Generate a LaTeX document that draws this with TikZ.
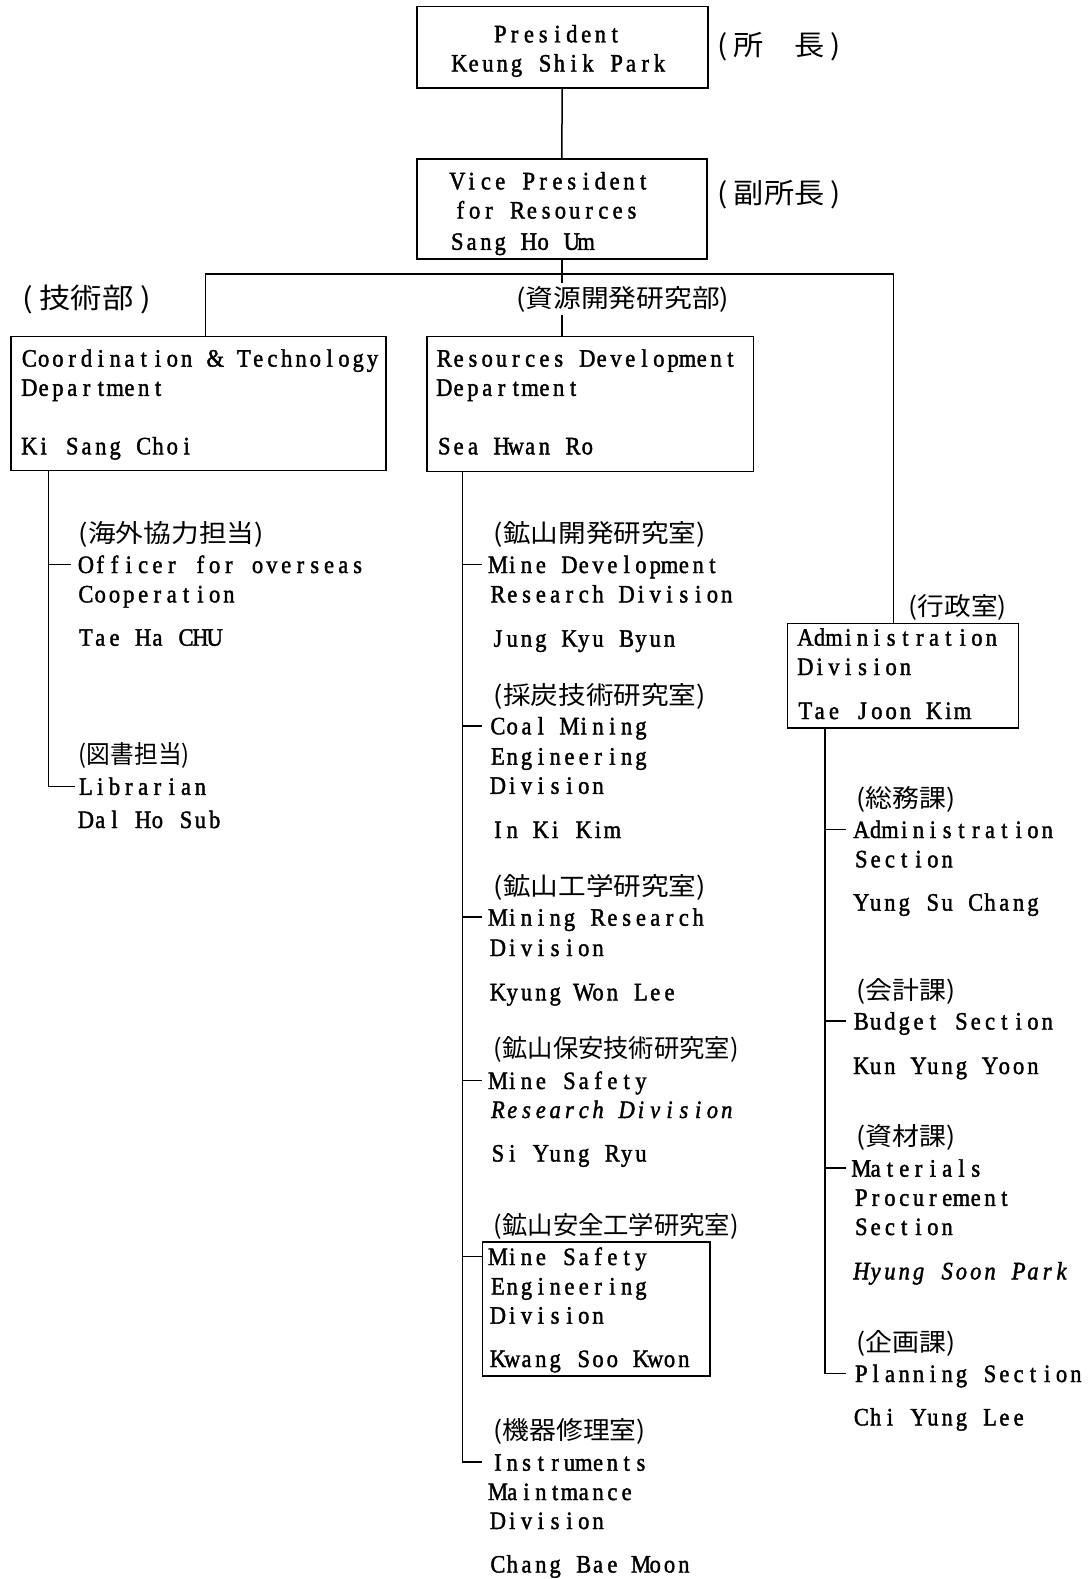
\documentclass[tikz,border=0pt]{standalone}
\usepackage{fontspec}
\usepackage{graphicx}
\setmainfont[FakeStretch=0.9,FakeBold=1.6]{Liberation Serif}
\newfontfamily\jpfont{Noto Sans CJK JP}
\newlength\mtw
\setlength\mtw{14.3pt}
\ExplSyntaxOn
\NewDocumentCommand\mt{m}{\str_map_inline:nn{#1}{\makebox[\mtw][c]{##1}}}
\ExplSyntaxOff
\newcommand\jp[3][25]{\resizebox{#2pt}{\height}{\jpfont\fontsize{#1pt}{#1pt}\selectfont #3}}
\tikzset{
  box/.style={draw, line width=1.5pt, inner sep=0pt, anchor=north west},
  txt/.style={anchor=base west, inner sep=0pt, text height=17pt, text depth=0pt, font=\fontsize{25pt}{25pt}\selectfont},
  jpl/.style={anchor=west, inner sep=0pt},
  ln/.style={line width=1.5pt}
}
\newcommand\tx[4]{\node[txt] (#1) at (#2,#3) {\mt{#4}};}
\begin{document}
\begin{tikzpicture}[x=1pt,y=-1pt]
\useasboundingbox[fill=white] (0,0) rectangle (1091,1579);
% boxes
\node[box, minimum width=291pt, minimum height=81pt] (pres) at (416,6) {};
\node[box, minimum width=290pt, minimum height=100pt] (vp) at (416,158) {};
\node[box, minimum width=375pt, minimum height=134pt] (ctd) at (10,335.5) {};
\node[box, minimum width=326.5pt, minimum height=135pt] (rdd) at (426,335.5) {};
\node[box, minimum width=230.7pt, minimum height=104.8pt] (adm) at (786.8,622.5) {};
\node[box, minimum width=227.5pt, minimum height=134pt] (mseb) at (481.5,1241) {};
% top
\tx{presA}{493}{42.3}{President}
\tx{presB}{452}{71.5}{Keung Shik Park}
\tx{vpA}{450}{189.3}{Vice President}
\tx{vpB}{453}{218.5}{for Resources}
\tx{vpC}{450}{249.8}{Sang Ho Um}
\node[jpl] (jpPres) at (717,46.3) {\jp[28]{124}{(\hspace{6pt}所　長\hspace{6pt})}};
\node[jpl] (jpVp) at (717,194.4) {\jp[28]{124}{(\hspace{6pt}副所長\hspace{6pt})}};
\node[jpl] (jpTech) at (22,299) {\jp[28]{129}{(\hspace{6pt}技術部\hspace{6pt})}};
% departments
\tx{ctdA}{22}{366.6}{Coordination & Technology}
\tx{ctdB}{22}{395.8}{Department}
\tx{ctdC}{22}{454.3}{Ki Sang Choi}
\tx{rddA}{437}{366.6}{Resources Development}
\tx{rddB}{437}{395.8}{Department}
\tx{rddC}{437}{454.3}{Sea Hwan Ro}
% left column
\node[jpl] (jpOff) at (78.6,534) {\jp{185}{(海外協力担当)}};
\tx{offA}{78.6}{573}{Officer for overseas}
\tx{offB}{78.6}{602.4}{Cooperation}
\tx{offC}{78.6}{645.7}{Tae Ha CHU}
\node[jpl] (jpLib) at (78.6,755.6) {\jp{111}{(図書担当)}};
\tx{libA}{78.6}{794.8}{Librarian}
\tx{libB}{78.6}{828}{Dal Ho Sub}
% middle column
\node[jpl] (jpMd) at (493.6,534) {\jp{212}{(鉱山開発研究室)}};
\tx{mdA}{490.6}{573}{Mine Development}
\tx{mdB}{490.6}{602.4}{Research Division}
\tx{mdC}{490.6}{646.7}{Jung Kyu Byun}
\node[jpl] (jpCm) at (493.6,696) {\jp{212}{(採炭技術研究室)}};
\tx{cmA}{490.6}{734.3}{Coal Mining}
\tx{cmB}{490.6}{764.6}{Engineering}
\tx{cmC}{490.6}{793.8}{Division}
\tx{cmD}{490.6}{838}{In Ki Kim}
\node[jpl] (jpMr) at (493.6,887.5) {\jp{212}{(鉱山工学研究室)}};
\tx{mrA}{490.6}{925.7}{Mining Research}
\tx{mrB}{490.6}{956}{Division}
\tx{mrC}{490.6}{1000.3}{Kyung Won Lee}
\node[jpl] (jpMs) at (493.6,1049.7) {\jp{245}{(鉱山保安技術研究室)}};
\tx{msA}{490.6}{1089}{Mine Safety}
\node[txt] (msB) at (490.6,1118) {\itshape\mt{Research Division}};
\tx{msC}{490.6}{1161.5}{Si Yung Ryu}
\node[jpl] (jpMse) at (493.6,1226) {\jp{245}{(鉱山安全工学研究室)}};
\tx{mseA}{490.6}{1265}{Mine Safety}
\tx{mseB}{490.6}{1294.5}{Engineering}
\tx{mseC}{490.6}{1323.6}{Division}
\tx{mseD}{490.6}{1367}{Kwang Soo Kwon}
\node[jpl] (jpIns) at (493.6,1431.5) {\jp{152}{(機器修理室)}};
\tx{insA}{490.6}{1470.7}{Instruments}
\tx{insB}{490.6}{1500}{Maintmance}
\tx{insC}{490.6}{1529}{Division}
\tx{insD}{490.6}{1572.5}{Chang Bae Moon}
% administration
\node[jpl] (jpAdm) at (908.7,607.5) {\jp{98}{(行政室)}};
\tx{admA}{798}{645.7}{Administration}
\tx{admB}{798}{675}{Division}
\tx{admC}{798}{719}{Tae Joon Kim}
\node[jpl] (jpAs) at (856,799) {\jp{99}{(総務課)}};
\tx{asA}{854}{838}{Administration}
\tx{asB}{854}{867.3}{Section}
\tx{asC}{854}{910.6}{Yung Su Chang}
\node[jpl] (jpBu) at (856,991.3) {\jp{99}{(会計課)}};
\tx{buA}{854}{1029.5}{Budget Section}
\tx{buB}{854}{1074}{Kun Yung Yoon}
\node[jpl] (jpMa) at (856,1137.4) {\jp{99}{(資材課)}};
\tx{maA}{854}{1176.6}{Materials}
\tx{maB}{854}{1205.8}{Procurement}
\tx{maC}{854}{1235}{Section}
\node[txt] (maD) at (854,1279.3) {\itshape\mt{Hyung Soon Park}};
\node[jpl] (jpPl) at (856,1343) {\jp{99}{(企画課)}};
\tx{plA}{854}{1382}{Planning Section}
\tx{plB}{854}{1425.4}{Chi Yung Lee}
% connectors
\coordinate (busL) at (205.5,274);
\coordinate (busR) at (893.5,274);
\coordinate (lx) at (48.4,0);
\coordinate (mx) at (462.4,0);
\coordinate (rx) at (825,0);
\draw[ln] (pres.south) -- (vp.north);
\draw[ln] (vp.south) -- (vp.south |- busL);
\draw[ln] (busL |- ctd.north) -- (busL) -- (busR) -- (busR |- adm.north);
\draw[ln] (vp.south |- busL) -- (vp.south |- rdd.north);
% label over the middle drop
\node[jpl, fill=white, inner ysep=3pt] (jpRes) at (516,299) {\jp{213}{(資源開発研究部)}};
% left tree
\draw[ln] (lx |- ctd.south) -- (lx |- libA.west) -- ([xshift=-4pt]libA.west);
\draw[ln] (lx |- offA.west) -- ([xshift=-8pt]offA.west);
% middle tree
\draw[ln] (mx |- rdd.south) -- (mx |- insA.west) -- ([xshift=-9pt]insA.west);
\draw[ln] (mx |- mdA.west) -- ([xshift=-9pt]mdA.west);
\draw[ln] (mx |- cmA.west) -- ([xshift=-9pt]cmA.west);
\draw[ln] (mx |- mrA.west) -- ([xshift=-9pt]mrA.west);
\draw[ln] (mx |- msA.west) -- ([xshift=-9pt]msA.west);
\draw[ln] (mx |- mseA.west) -- (mseb.west |- mseA.west);
% right tree
\draw[ln] (rx |- adm.south) -- (rx |- plA.west) -- ([xshift=-8pt]plA.west);
\draw[ln] (rx |- asA.west) -- ([xshift=-8pt]asA.west);
\draw[ln] (rx |- buA.west) -- ([xshift=-8pt]buA.west);
\draw[ln] (rx |- maA.west) -- ([xshift=-8pt]maA.west);
\end{tikzpicture}
\end{document}
